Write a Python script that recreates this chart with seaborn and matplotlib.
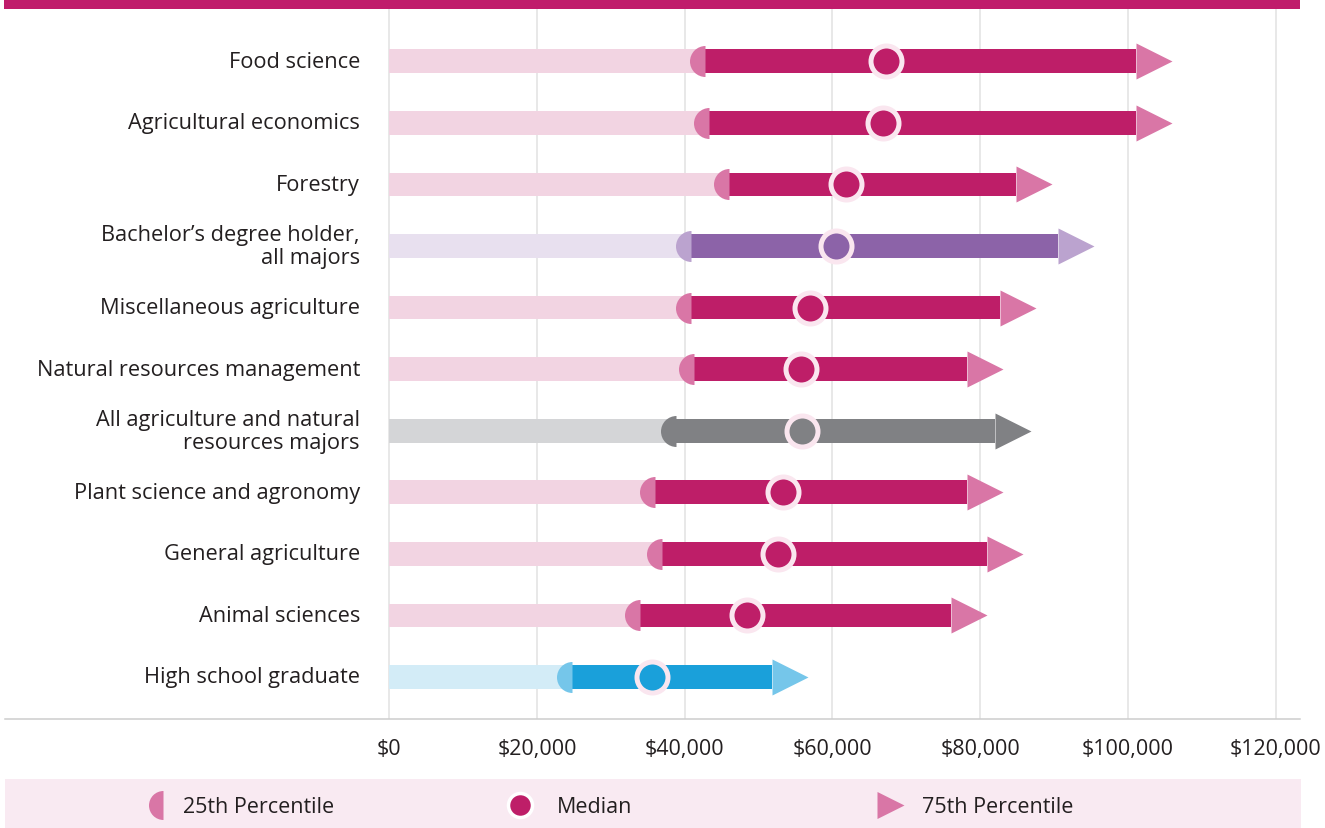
import numpy as np
import pandas as pd
import matplotlib
matplotlib.use("Agg")
import matplotlib.pyplot as plt
import seaborn as sns
from matplotlib.path import Path
from matplotlib.patches import Rectangle
from matplotlib.markers import MarkerStyle

# ---------------- data ----------------
categories = [
    "Food science",
    "Agricultural economics",
    "Forestry",
    "Bachelor\u2019s degree holder,\nall majors",
    "Miscellaneous agriculture",
    "Natural resources management",
    "All agriculture and natural\nresources majors",
    "Plant science and agronomy",
    "General agriculture",
    "Animal sciences",
    "High school graduate",
]
p25_values = [42800, 43300, 46000, 40900, 40800, 41300, 38800, 36000, 36900, 33900, 24800]
median_values = [67300, 66900, 61900, 60500, 57000, 55800, 55900, 53300, 52700, 48500, 35600]
p75_values = [101100, 101100, 84900, 90600, 82700, 78200, 82000, 78200, 80900, 76000, 51800]
groups = ["major", "major", "major", "bachelor", "major", "major", "allag",
          "major", "major", "major", "hs"]
tick_values = [0, 20000, 40000, 60000, 80000, 100000, 120000]
tick_labels = ["$0", "$20,000", "$40,000", "$60,000", "$80,000", "$100,000", "$120,000"]
legend_labels = ["25th Percentile", "Median", "75th Percentile"]

# ---------------- styles ----------------
group_colors = {
    "major":    {"dark": "#BE1E68", "light": "#F2D4E2", "mark": "#D976A6"},
    "bachelor": {"dark": "#8C63A8", "light": "#E8E0EF", "mark": "#BBA3CF"},
    "allag":    {"dark": "#808184", "light": "#D4D5D7", "mark": "#808184"},
    "hs":       {"dark": "#1AA0DA", "light": "#D3ECF7", "mark": "#75C6EA"},
}
TEXT = "#231F20"
RING = "#FAE6EF"
FONT = "Open Sans"
FS = 15.5
FS_CAT = 15.7

sns.set_theme(style="white")
plt.rcParams["font.family"] = [FONT, "DejaVu Sans"]

W, H = 1325, 829
fig = plt.figure(figsize=(W / 100, H / 100), dpi=100)
fig.patch.set_facecolor("white")

# axes spans px x 5..1300, y 10..720 (from top)
ax = fig.add_axes([5 / W, (H - 720) / H, 1295 / W, 710 / H])

df = pd.DataFrame({
    "category": categories,
    "p25": p25_values,
    "median": median_values,
    "p75": p75_values,
    "group": groups,
})
dark_pal = [group_colors[g]["dark"] for g in groups]
light_pal = [group_colors[g]["light"] for g in groups]

bar_w = 0.385
sns.barplot(data=df, y="category", x="p75", hue="category", order=categories,
            hue_order=categories, palette=dark_pal, width=bar_w, dodge=False,
            saturation=1, errorbar=None, legend=False, linewidth=0, ax=ax, zorder=2)
sns.barplot(data=df, y="category", x="p25", hue="category", order=categories,
            hue_order=categories, palette=light_pal, width=bar_w, dodge=False,
            saturation=1, errorbar=None, legend=False, linewidth=0, ax=ax, zorder=3)

tri_path = Path([(0, -0.5), (1, 0), (0, 0.5), (0, -0.5)],
                [Path.MOVETO, Path.LINETO, Path.LINETO, Path.CLOSEPOLY])
tri_marker = MarkerStyle(tri_path)
px = 0.72  # points per pixel at dpi 100

for i, row in df.iterrows():
    c = group_colors[row["group"]]
    # 25th percentile half circle
    ax.plot(row["p25"], i, marker="o", fillstyle="left", markerfacecolor=c["mark"],
            markerfacecoloralt="none", markeredgewidth=0, markersize=31 * px,
            linestyle="none", zorder=5)
    # 75th percentile arrow head
    ax.plot(row["p75"], i, marker=tri_marker, markerfacecolor=c["mark"],
            markeredgewidth=0, markersize=72 * px, linestyle="none", zorder=5)
    # median
    ax.plot(row["median"], i, marker="o", markerfacecolor=c["dark"],
            markeredgecolor=RING, markeredgewidth=5 * px, markersize=31 * px,
            linestyle="none", zorder=6)

# limits (pixel-calibrated)
ppk = 7.385 / 1000.0  # px per dollar
x0_px = 389.3
ax.set_xlim((5 - x0_px) / ppk, (1300 - x0_px) / ppk)
ax.set_ylim(10.683, -0.849)

ax.set_xticks(tick_values)
ax.set_xticklabels(tick_labels, fontsize=FS, color=TEXT)
ax.tick_params(axis="x", length=0, pad=14)
ax.set_yticks([])
ax.set_xlabel("")
ax.set_ylabel("")
ax.grid(axis="x", color="#E2E2E2", linewidth=1.1)
ax.grid(axis="y", visible=False)
ax.set_axisbelow(True)
for s in ["top", "left", "right"]:
    ax.spines[s].set_visible(False)
ax.spines["bottom"].set_color("#CDCDCD")
ax.spines["bottom"].set_linewidth(1.1)

label_x = (360 - x0_px) / ppk
for i, cat in enumerate(categories):
    ax.text(label_x, i, cat, ha="right", va="center", fontsize=FS_CAT, color=TEXT,
            linespacing=1.12, multialignment="right")

# top band
fig.patches.append(Rectangle((4 / W, (H - 10) / H), 1296 / W, 10 / H,
                             transform=fig.transFigure, facecolor="#C01C6B",
                             edgecolor="none", zorder=10))

# legend band
lax = fig.add_axes([0, 0, 1, 1], facecolor="none")
lax.set_xlim(0, W)
lax.set_ylim(H, 0)
lax.set_axis_off()
lax.add_patch(Rectangle((5, 780), 1296, 49, facecolor="#F9EAF2", edgecolor="none", zorder=0))
ly = 806
ty = 808
mc = group_colors["major"]
lax.plot(163, ly, marker="o", fillstyle="left", markerfacecolor=mc["mark"],
         markerfacecoloralt="none", markeredgewidth=0, markersize=29 * px, linestyle="none")
lax.text(183, ty, legend_labels[0], ha="left", va="center", fontsize=FS, color=TEXT)
lax.plot(520, ly, marker="o", markerfacecolor=mc["dark"], markeredgecolor="white",
         markeredgewidth=3.5 * px, markersize=24 * px, linestyle="none")
lax.text(557, ty, legend_labels[1], ha="left", va="center", fontsize=FS, color=TEXT)
lax.plot(877, ly, marker=tri_marker, markerfacecolor=mc["mark"], markeredgewidth=0,
         markersize=54 * px, linestyle="none")
lax.text(922, ty, legend_labels[2], ha="left", va="center", fontsize=FS, color=TEXT)

fig.savefig("out.png", dpi=100)
